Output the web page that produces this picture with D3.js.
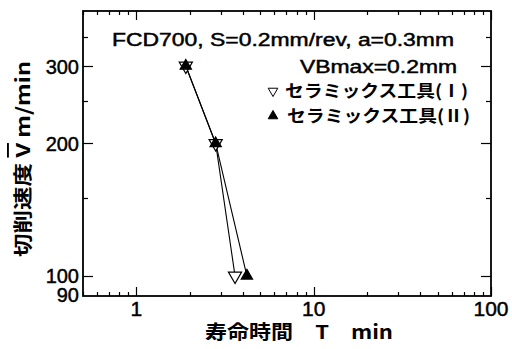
<!DOCTYPE html>
<html>
<head>
<meta charset="utf-8">
<script src="https://cdn.jsdelivr.net/npm/d3@7.8.5/dist/d3.min.js"></script>
<style>
  body { margin: 0; background: #fff; }
  svg { display: block; }
  text { fill: #000; }
  .heavy { stroke: #000; stroke-width: 0.45px; }
</style>
</head>
<body>
<div id="chart"></div>
<script>
// data
const speeds = [300, 200, 100];          // cutting speed V (m/min)
const lifeToolI = [1.9, 2.8, 3.6];       // tool life T (min), ceramic tool (I)
const lifeToolII = [1.9, 2.8, 4.2];      // tool life T (min), ceramic tool (II)
const seriesNames = ["セラミックス工具(Ⅰ)", "セラミックス工具(Ⅱ)"];

const xLabelTicks = [1, 10, 100];
const yMajorTicks = [100, 200, 300];
const yMinorTicks = [150, 250, 350];
const yLabelTicks = [90, 100, 200, 300];

const width = 512, height = 349;
const margin = { top: 11, right: 21, bottom: 53, left: 83 };
const latin = "'Liberation Sans', Arial, sans-serif";
const cjk = "'Noto Sans CJK JP', sans-serif";

const svg = d3.select("#chart")
  .append("svg")
  .attr("width", width)
  .attr("height", height);

const x = d3.scaleLog()
  .domain([0.5, 100])
  .range([margin.left, width - margin.right]);

const y = d3.scaleLog()
  .domain([90, 400])
  .range([height - margin.bottom, margin.top]);

const x0 = x.range()[0], x1 = x.range()[1];
const y0 = y.range()[0], y1 = y.range()[1];

// ticks, pointing inward on all four sides
const ticks = svg.append("g").attr("stroke", "#000").attr("stroke-width", 1.2);
x.ticks().forEach((t) => {
  const len = xLabelTicks.includes(t) ? 9 : 4;
  const px = Math.round(x(t)) + 0.5;
  ticks.append("line").attr("x1", px).attr("x2", px).attr("y1", y0).attr("y2", y0 - len);
  ticks.append("line").attr("x1", px).attr("x2", px).attr("y1", y1).attr("y2", y1 + len);
});
yMajorTicks.concat(yMinorTicks).forEach((t) => {
  const len = yMajorTicks.includes(t) ? 10 : 5;
  const py = Math.round(y(t)) + 0.5;
  ticks.append("line").attr("x1", x0).attr("x2", x0 + len).attr("y1", py).attr("y2", py);
  ticks.append("line").attr("x1", x1).attr("x2", x1 - len).attr("y1", py).attr("y2", py);
});

// frame
svg.append("rect")
  .attr("x", x0).attr("y", y1)
  .attr("width", x1 - x0).attr("height", y0 - y1)
  .attr("fill", "none").attr("stroke", "#000").attr("stroke-width", 1.8);

// tick labels
svg.append("g").selectAll("text")
  .data(xLabelTicks).enter().append("text")
  .attr("class", "heavy")
  .attr("x", (d) => x(d))
  .attr("y", 316)
  .attr("text-anchor", "middle")
  .style("font-family", latin)
  .style("font-size", "21px")
  .text((d) => d);

svg.append("g").selectAll("text")
  .data(yLabelTicks).enter().append("text")
  .attr("class", "heavy")
  .attr("x", x0 - 4)
  .attr("y", (d) => y(d))
  .attr("dy", (d) => (d === 90 ? "0.3em" : "0.38em"))
  .attr("text-anchor", "end")
  .style("font-family", latin)
  .style("font-size", "20px")
  .text((d) => d);

// axis titles
svg.append("text")
  .attr("x", 205).attr("y", 339)
  .attr("textLength", 188).attr("lengthAdjust", "spacingAndGlyphs")
  .style("font-family", cjk).style("font-weight", "bold").style("font-size", "19px")
  .text("寿命時間　T　min");

const yTitle = svg.append("text")
  .attr("transform", "translate(30,159) rotate(-90)")
  .attr("text-anchor", "middle")
  .attr("textLength", 196).attr("lengthAdjust", "spacingAndGlyphs")
  .style("font-family", cjk).style("font-weight", "bold").style("font-size", "19px");
yTitle.append("tspan").text("切削速度 ");
yTitle.append("tspan").style("text-decoration", "overline").text("V");
yTitle.append("tspan").text(" m/min");

// annotations
svg.append("text")
  .attr("class", "heavy")
  .attr("x", 112).attr("y", 46)
  .attr("textLength", 342).attr("lengthAdjust", "spacingAndGlyphs")
  .style("font-family", latin).style("font-size", "17.5px")
  .text("FCD700, S=0.2mm/rev, a=0.3mm");

svg.append("text")
  .attr("class", "heavy")
  .attr("x", 300).attr("y", 73)
  .attr("textLength", 157).attr("lengthAdjust", "spacingAndGlyphs")
  .style("font-family", latin).style("font-size", "17.5px")
  .text("VBmax=0.2mm");

// series
const line = d3.line()
  .x((d) => x(d[0]))
  .y((d) => y(d[1]));

const series = [
  { name: seriesNames[0], life: lifeToolI, fill: "#fff", rotate: 180, size: 75 },
  { name: seriesNames[1], life: lifeToolII, fill: "#000", rotate: 0, size: 55 },
];

series.forEach((s) => {
  const pts = s.life.map((t, i) => [t, speeds[i]]);
  svg.append("path")
    .datum(pts)
    .attr("d", line)
    .attr("fill", "none")
    .attr("stroke", "#000")
    .attr("stroke-width", 1.1);
});

series.forEach((s) => {
  const pts = s.life.map((t, i) => [t, speeds[i]]);
  svg.append("g").selectAll("path")
    .data(pts).enter().append("path")
    .attr("d", d3.symbol().type(d3.symbolTriangle).size(s.size))
    .attr("transform", (d) => `translate(${x(d[0])},${y(d[1])}) rotate(${s.rotate})`)
    .attr("fill", s.fill)
    .attr("stroke", "#000")
    .attr("stroke-width", 1.2);
});

// legend
const legend = svg.append("g");
series.forEach((s, i) => {
  const ly = 91 + i * 25;
  legend.append("path")
    .attr("d", d3.symbol().type(d3.symbolTriangle).size(40))
    .attr("transform", `translate(273,${ly}) rotate(${s.rotate})`)
    .attr("fill", s.fill)
    .attr("stroke", "#000")
    .attr("stroke-width", 1);
  legend.append("text")
    .attr("x", 285 + i * 2).attr("y", ly + 6)
    .attr("textLength", 183).attr("lengthAdjust", "spacingAndGlyphs")
    .style("font-family", cjk).style("font-weight", "bold").style("font-size", "17px")
    .text(s.name);
});
</script>
</body>
</html>
